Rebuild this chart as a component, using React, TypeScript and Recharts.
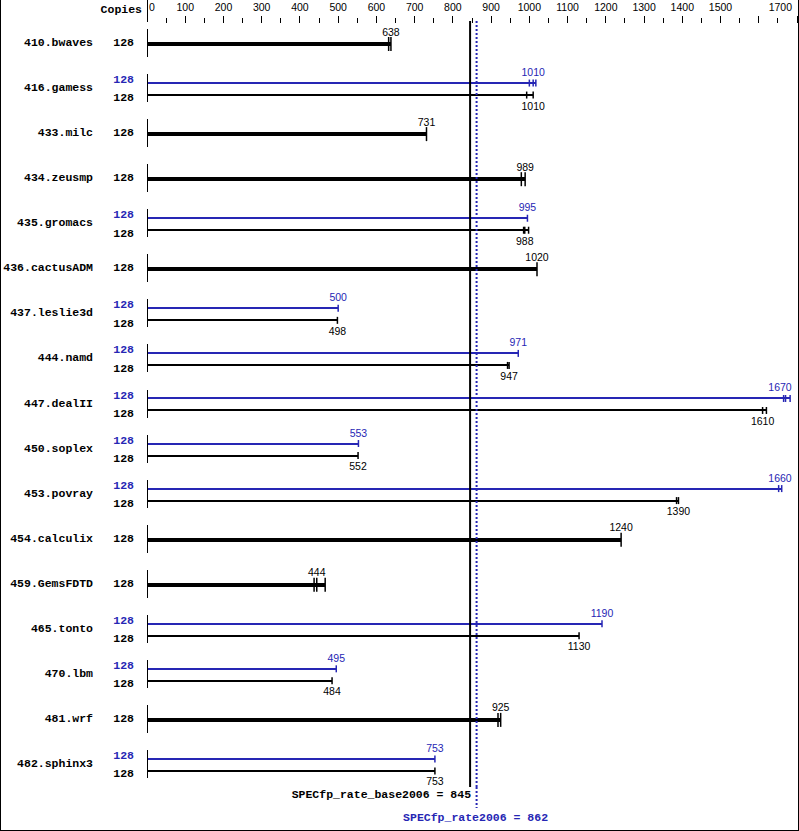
import React from 'react';
import { BarChart, Bar, XAxis, YAxis, ReferenceLine } from 'recharts';

const BLUE = '#2626b4';
const MONO = '"Liberation Mono", "DejaVu Sans Mono", monospace';
const SANS = '"Liberation Sans", Arial, sans-serif';

const benchmarks = [
  '410.bwaves', '416.gamess', '433.milc', '434.zeusmp', '435.gromacs', '436.cactusADM',
  '437.leslie3d', '444.namd', '447.dealII', '450.soplex', '453.povray', '454.calculix',
  '459.GemsFDTD', '465.tonto', '470.lbm', '481.wrf', '482.sphinx3',
];
const copies = [128, 128, 128, 128, 128, 128, 128, 128, 128, 128, 128, 128, 128, 128, 128, 128, 128];
const peakCopies = [null, 128, null, null, 128, null, 128, 128, 128, 128, 128, null, null, 128, 128, null, 128];

const baseMedians = [638, 1010, 731, 989, 988, 1020, 498, 947, 1610, 552, 1390, 1240, 444, 1130, 484, 925, 753];
const peakMedians = [null, 1010, null, null, 995, null, 500, 971, 1670, 553, 1660, null, null, 1190, 495, null, 753];

const baseRuns = [
  [632, 638], [993, 1010], [731], [979, 989], [985, 988, 998], [1020],
  [498], [943, 947], [1610, 1620], [552], [1385, 1390], [1240],
  [437, 444, 466], [1130], [484], [918, 925], [753],
];
const peakRuns = [
  [], [1000, 1010, 1017], [], [], [995], [],
  [500], [971], [1665, 1670, 1682], [553], [1652, 1660], [],
  [], [1190], [495], [], [753],
];

const axisTicks = [0, 50, 100, 150, 200, 250, 300, 350, 400, 450, 500, 550, 600, 650, 700, 750, 800, 850,
  900, 950, 1000, 1050, 1100, 1150, 1200, 1250, 1300, 1350, 1400, 1450, 1500, 1550, 1600, 1650, 1700];
const axisLabels = [0, 100, 200, 300, 400, 500, 600, 700, 800, 900, 1000, 1100, 1200, 1300, 1400, 1500, 1700];

const baseScore = 845;
const peakScore = 862;
const baseScoreLabel = 'SPECfp_rate_base2006 = 845';
const peakScoreLabel = 'SPECfp_rate2006 = 862';

const data = benchmarks.map((name, i) => ({
  name,
  copies: copies[i],
  peakCopies: peakCopies[i],
  single: peakMedians[i] == null,
  base: Math.max(...baseRuns[i]),
  peak: peakMedians[i] == null ? null : Math.max(...peakRuns[i]),
  baseMedian: baseMedians[i],
  peakMedian: peakMedians[i],
  baseRuns: baseRuns[i],
  peakRuns: peakRuns[i],
}));

const LABEL_MAX_X = 780;

const PeakShape = (props: any) => {
  const { x, y, width, height, payload } = props;
  if (payload == null || payload.peak == null || !isFinite(width)) return null;
  const cy = y + height / 2;
  const toPx = (v: number) => x + (width * v) / payload.peak;
  const mx = toPx(payload.peakMedian);
  return (
    <g>
      <line x1={x} x2={x + width} y1={cy} y2={cy} stroke={BLUE} strokeWidth={2} shapeRendering="crispEdges" />
      {payload.peakRuns.map((r: number, k: number) => (
        <line key={k} x1={toPx(r)} x2={toPx(r)} y1={cy - 3.5} y2={cy + 3.5} stroke={BLUE} strokeWidth={1.5} />
      ))}
      <text x={Math.min(mx, LABEL_MAX_X)} y={cy - 7} textAnchor="middle" fill={BLUE}
        style={{ fontFamily: SANS, fontSize: 10.5 }}>{payload.peakMedian}</text>
    </g>
  );
};

const BaseShape = (props: any) => {
  const { x, y, width, height, payload } = props;
  if (payload == null || payload.base == null || !isFinite(width)) return null;
  const single = payload.single;
  const cy = single ? y : y + height / 2;
  const half = single ? 7 : 3.5;
  const toPx = (v: number) => x + (width * v) / payload.base;
  const mx = toPx(payload.baseMedian);
  return (
    <g>
      <line x1={x} x2={x + width} y1={cy} y2={cy} stroke="#000" strokeWidth={single ? 4 : 2} shapeRendering="crispEdges" />
      {payload.baseRuns.map((r: number, k: number) => (
        <line key={k} x1={toPx(r)} x2={toPx(r)} y1={cy - half} y2={cy + half} stroke="#000" strokeWidth={1.5} />
      ))}
      <text x={Math.min(mx, LABEL_MAX_X)} y={single ? cy - 8.5 : cy + 14.5} textAnchor="middle" fill="#000"
        style={{ fontFamily: SANS, fontSize: 10.5 }}>{payload.baseMedian}</text>
    </g>
  );
};

const boldMono = { fontFamily: MONO, fontSize: 11.5, fontWeight: 700 } as any;

const YTick = (props: any) => {
  const { x, y, payload } = props;
  const row = data.find((d) => d.name === payload.value);
  if (!row) return null;
  return (
    <g>
      <text x={x - 54} y={y + 2.5} textAnchor="end" fill="#000" style={boldMono}>{row.name}</text>
      {row.single ? (
        <text x={x - 13} y={y + 2.5} textAnchor="end" fill="#000" style={boldMono}>{row.copies}</text>
      ) : (
        <>
          <text x={x - 13} y={y - 5.5} textAnchor="end" fill={BLUE} style={boldMono}>{row.peakCopies}</text>
          <text x={x - 13} y={y + 12.8} textAnchor="end" fill="#000" style={boldMono}>{row.copies}</text>
        </>
      )}
      <line x1={x} x2={x} y1={y - 14.5} y2={y + 13.5} stroke="#000" strokeWidth={1} shapeRendering="crispEdges" />
    </g>
  );
};

const TopTick = (props: any) => {
  const { x, y, payload } = props;
  const v = payload.value;
  const major = v % 100 === 0;
  const showLabel = axisLabels.includes(v);
  let anchor = 'middle';
  let lx = x;
  if (v === 0) { anchor = 'start'; lx = x + 2; }
  if (v === 1700) { anchor = 'end'; lx = x - 5; }
  return (
    <g>
      {v === 0 ? (
        <line x1={x} x2={x} y1={y - 21} y2={y + 1} stroke="#000" strokeWidth={1} shapeRendering="crispEdges" />
      ) : (
        <line x1={x} x2={x} y1={y - (major ? 5.3 : 2.7)} y2={y + 2.3} stroke="#000" strokeWidth={1} shapeRendering="crispEdges" />
      )}
      {showLabel && (
        <text x={lx} y={y - 10} textAnchor={anchor} fill="#000" style={{ fontFamily: SANS, fontSize: 10.5 }}>{v}</text>
      )}
      {v === 0 && (
        <text x={x - 5} y={y - 8.5} textAnchor="end" fill="#000" style={boldMono}>Copies</text>
      )}
    </g>
  );
};

const BottomTick = (props: any) => {
  const { x, y, payload } = props;
  const v = payload.value;
  if (v === baseScore) {
    return (
      <text x={x + 1} y={y + 11} textAnchor="end" fill="#000" style={boldMono}>{baseScoreLabel}</text>
    );
  }
  if (v === peakScore) {
    return (
      <g>
        <line x1={x} x2={x} y1={y} y2={y + 21} stroke={BLUE} strokeWidth={2} strokeDasharray="2 2" />
        <text x={x - 1} y={y + 34} textAnchor="middle" fill={BLUE} style={boldMono}>{peakScoreLabel}</text>
      </g>
    );
  }
  return null;
};

export default function App() {
  return (
    <div style={{ position: 'absolute', left: 0, top: 0, width: 799, height: 831, background: '#fff' }}>
      <BarChart
        width={799}
        height={831}
        data={data}
        layout="vertical"
        barGap={0}
        margin={{ top: 0, right: 2, bottom: 0, left: 0 }}
      >
        <XAxis
          type="number"
          orientation="top"
          domain={[0, 1700]}
          ticks={axisTicks}
          interval={0}
          height={21}
          axisLine={false}
          tickLine={false}
          tickSize={0}
          tickMargin={0}
          tick={TopTick}
          allowDataOverflow
        />
        <XAxis
          xAxisId="bottom"
          type="number"
          orientation="bottom"
          domain={[0, 1700]}
          ticks={[baseScore, peakScore]}
          interval={0}
          height={44}
          axisLine={false}
          tickLine={false}
          tickSize={0}
          tickMargin={0}
          tick={BottomTick}
          allowDataOverflow
        />
        <YAxis
          type="category"
          dataKey="name"
          width={147}
          interval={0}
          axisLine={false}
          tickLine={false}
          tickSize={0}
          tickMargin={0}
          tick={YTick}
        />
        <Bar dataKey="peak" barSize={12} shape={PeakShape} isAnimationActive={false} />
        <Bar dataKey="base" barSize={12} shape={BaseShape} isAnimationActive={false} />
        <ReferenceLine x={baseScore} stroke="#000" strokeWidth={2} />
        <ReferenceLine x={peakScore} stroke={BLUE} strokeWidth={2} strokeDasharray="2 2" />
      </BarChart>
      <div style={{ position: 'absolute', left: 0, top: 0, width: 799, height: 831, boxSizing: 'border-box',
        borderLeft: '1px solid #000', borderRight: '1px solid #000', borderBottom: '1px solid #000', pointerEvents: 'none' }} />
    </div>
  );
}
